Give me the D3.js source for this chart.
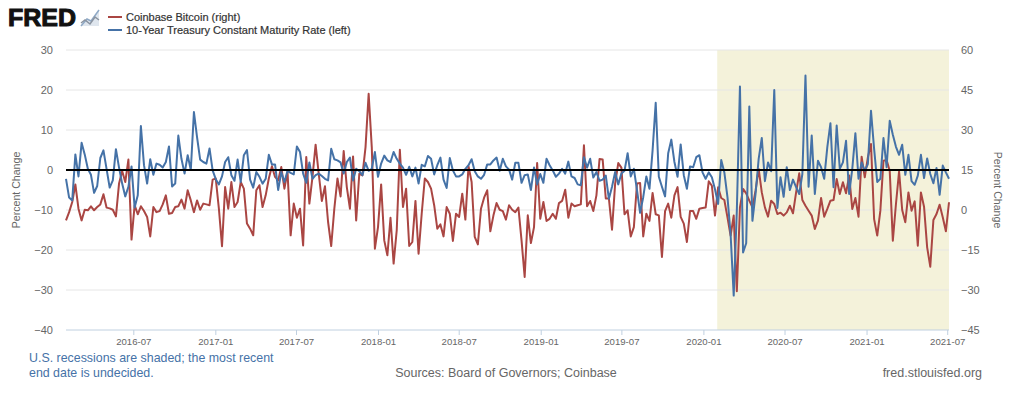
<!DOCTYPE html>
<html>
<head>
<meta charset="utf-8">
<script src="https://cdnjs.cloudflare.com/ajax/libs/d3/7.8.5/d3.min.js"></script>
<style>
  html, body { margin: 0; padding: 0; background: #fff; }
  text { font-family: "Liberation Sans", Arial, sans-serif; }
  .domain { display: none; }
</style>
</head>
<body>
<div id="chart"></div>
<script>
// weekly observations, first one on 2016-02-01
const firstWeek = "2016-02-01";

// Coinbase Bitcoin, percent change (right axis)
const bitcoin = [
  -3.9, -0.8, 3, 9.6, 0.5, -3.9, 0.1, -0.1, 1.4, -0.1, 1.1, 2.1, 5.9, 0.9, 0.6, 0.1, -2.4, 9.9, 14.6, 10.5,
  18.9, -11.1, 1.8, -1.6, 1.4, -0.4, -2.6, -9.9, 1.1, -0.8, -0.4, 2.1, 5.5, -1.4, -1.1, 1.1, 1.4, 3.9, 0.5, 7.4,
  3.6, -0.8, 3.6, 0.1, 2.4, 2.1, 1.8, 11.4, 11.8, 0.5, -13.6, 8.6, 0.5, 10.5, 1.1, 3, 10.5, 8, -5.1, -7,
  -9.5, 7.4, 9.3, 1.1, 5.5, 11.8, 16.4, 12.4, 11.1, 16.1, 8, 14.3, -9.5, 2.4, -2.9, 0.5, -13.3, 19.9, 2.4, 12.4,
  24.5, 13.6, 3.4, 8.9, -4.5, -13.5, 0.5, 11.8, 5.1, 22.1, 8.6, 0.5, 20.1, -3.9, 13.6, 13, 23.6, 43.6, 23.6, -14.5,
  -6.4, 9.6, -11.4, -17, -2.9, -20.1, -7.6, 22.6, 1.1, 8, -13.5, -12, 3.4, -16.4, -1.4, 11.8, 10.5, 8, 1.8, -7,
  -5.4, -9.9, 1.1, -1.4, -11.6, -1.4, -2.6, 6.1, -3.6, 16.4, 10.5, -10.1, -12.9, 0.5, 4.6, 7.4, -8, -2, 2.6, 0.1,
  -0.4, -3.6, 1.8, 0.1, -0.8, 0.9, -11.4, -25.1, -2, -12.4, -6.4, 17.6, -3.3, 3, -4.1, -3.3, -1.4, -3.3, 2.6, 3.4,
  7.6, -2.9, 2.4, 1.4, 1.8, 2.1, 24.3, 1.4, 3.4, -0.4, 5.5, 19.1, 18.9, 4.3, 4.3, -7.4, 9.9, 17.6, 15.9, -1.6,
  -0.1, -9.9, -6.4, 9.9, 10.1, -9.9, -1.4, -4.1, 6.4, -1.6, -2, -17.6, -0.4, 2.4, -2.9, 5.5, 8.6, -2.6, -5.1, -12,
  -0.4, -0.4, -3.3, 0.5, 0.75, 0.9, 10.75, 9.1, -2.1, 8.5, 4.5, 3.75, -2.75, -9.6, -2.1, -30.5, 1, 7.9, 6.25, 3.5,
  1, 7.25, 15.4, 6.6, 1, -2.5, 3.5, 2.25, -1.5, -1, -2.1, -0.9, 1.6, -1.25, 6.6, 13.75, 3.75, 1.6, -0.25, -2.1,
  -7.1, -4, 4.5, -2.5, 0.4, 3.5, 3.75, 11.6, 6, 10.4, 6.25, 12.9, 0.4, 4.5, -2.5, 20, 12.25, 19.75, 24.75, -3.4,
  -9.6, -0.25, 18.5, 18.75, 14.75, -11.5, 2.25, 14.5, 0, -4.6, 6.6, -0.25, 3.25, -13.4, 6.6, 1.25, -14, -21.25, -3.75, -1.5,
  2, -2.75, -8, 2.9
];

// 10-Year Treasury Constant Maturity Rate, percent change (left axis)
const treasury = [
  -2.2, -6.9, -7.6, 3.9, -1.6, 6.8, 3.9, 0.3, -1.2, -5.7, -4, 3, 4.9, 0.3, -4.4, -2.6, 5.2, 0.6, -3.4, -6.6,
  -4.2, 0.9, -9.4, -6.3, 11, 1.2, -3.4, 2.7, -1.2, 1.6, 1.3, 0.6, 2, 5.9, -4.1, -3.4, 8.6, 2.8, -0.9, 3.7,
  0, 14.5, 8.2, 2.6, 2, 1.6, 5.4, -0.1, -2.3, -3.6, -1.6, 2, 3.2, -1.3, -2.7, 2.6, -3, 3.7, 5, -2.4,
  -4.4, -0.5, -1.7, -3.4, -2.2, 3.8, 1.4, 1.4, -5, -0.5, -3, -0.2, -0.7, -1.1, 5.9, 4.5, -0.9, -3.2, 1.9, -2.2,
  -1.3, -0.9, -1.5, -2.2, -2.6, 5.3, 2.7, 2.4, 1.9, -0.9, 2, 3.1, -2.6, 0.3, -0.3, -1.3, 1.8, -0.2, 0.3, 4.5,
  -1.7, 1.6, 3.6, 2.4, 2, 4.5, 2.8, 1.6, 0.6, -1.2, 0.8, -1.6, 0.6, -3.4, 1.3, 0.9, 3.5, 2.8, -1.1, 1.2,
  3.1, -2.4, -4.5, 3, -0.1, -1.6, -1.6, -1.1, 0.3, 1.2, 2.7, -0.3, -1.6, -2.2, -1.2, 1.4, 1.4, 2.4, 3.1, -0.2,
  2.8, 0.9, 0.1, -2.4, 1.8, 1.8, -3.2, -1.3, -1.1, -5, 0.6, -3.6, -1, -3.2, 2.8, 1.2, -0.1, -1.7, -0.9, 0.3,
  -0.9, 2.1, -1.6, -2, -3.6, -3.8, 3.2, 0.6, 2.8, -1.9, -0.5, -2.7, -2.4, -1.4, -7.2, -4.2, -0.5, -3.6, -0.9, -0.2,
  4.2, -1.6, 0.3, -5, -10.7, -6.8, -1.6, -4.7, 4.9, 16.8, -1.7, -4.2, -6.6, 4.2, 7.6, 2, -1.7, 6.4, -1.3, -4.7,
  0.9, 0.7, 3.2, 3.7, -0.6, -2.2, -0.6, -1.8, -4.8, -8.5, 2.5, -0.6, -6.8, -16, -31.4, -10.2, 20.9, -20.6, -18.3, 15.9,
  -12.7, -6, 2.8, 8, -2.8, 1.9, -0.3, 20, -9.5, -1.8, -6.7, 0.7, -5, -2.4, -4.3, -6, -1, 23.6, -4.2, 8.6,
  -6, 2.3, 0.7, -2.2, 5.7, 11.7, -4.3, 11.1, 0.3, 1.9, 7.3, -6, 0.3, 9.2, -2.2, 1.9, -0.2, 1.5, 14.8, 5.3,
  -3, -2.2, 8, 0.7, 12.3, 8.8, 5.8, 3.8, 6.3, -1.2, 3.8, -2.8, -3.7, -1.4, 3.8, -2, 2.9, -1, -3.3, 0.5,
  -6.2, 1.1, -0.6, -2.2
];

const leftTicks = [30, 20, 10, 0, -10, -20, -30, -40];
const rightTicks = [60, 45, 30, 15, 0, -15, -30, -45];
const monthTicks = ["2016-07", "2017-01", "2017-07", "2018-01", "2018-07", "2019-01", "2019-07", "2020-01", "2020-07", "2021-01", "2021-07"];
const recession = ["2020-02-01"];
const legendNames = ["Coinbase Bitcoin (right)", "10-Year Treasury Constant Maturity Rate (left)"];
const noteLines = ["U.S. recessions are shaded; the most recent", "end date is undecided."];
const sourceText = "Sources: Board of Governors; Coinbase";
const siteText = "fred.stlouisfed.org";

const red = "#aa4643", blue = "#4572a7", gridColor = "#e6e6e6", tickText = "#666";
const width = 1024, height = 395;
const margin = { left: 66, right: 75, top: 50, bottom: 65 };

const parseDay = d3.utcParse("%Y-%m-%d");
const parseMonth = d3.utcParse("%Y-%m");
const start = parseDay(firstWeek);
const dates = bitcoin.map((d, i) => d3.utcDay.offset(start, i * 7));

const svg = d3.select("#chart").append("svg")
  .attr("width", width)
  .attr("height", height)
  .style("display", "block");

const x = d3.scaleUtc()
  .domain(d3.extent(dates))
  .range([margin.left, width - margin.right]);
const yLeft = d3.scaleLinear()
  .domain([-40, 30])
  .range([height - margin.bottom, margin.top]);
const yRight = d3.scaleLinear()
  .domain([-45, 60])
  .range([height - margin.bottom, margin.top]);

// recession band
svg.append("rect")
  .attr("x", x(parseDay(recession[0])))
  .attr("y", margin.top)
  .attr("width", x.range()[1] - x(parseDay(recession[0])))
  .attr("height", height - margin.bottom - margin.top)
  .attr("fill", "#f4f2da");

// gridlines
svg.append("g").selectAll("line")
  .data(leftTicks.slice(0, -1))
  .join("line")
  .attr("x1", x.range()[0])
  .attr("x2", x.range()[1])
  .attr("y1", d => yLeft(d))
  .attr("y2", d => yLeft(d))
  .attr("stroke", gridColor);

// axes
const xAxis = svg.append("g")
  .attr("transform", `translate(0, ${height - margin.bottom})`)
  .call(d3.axisBottom(x)
    .tickValues(monthTicks.map(parseMonth))
    .tickFormat(d3.utcFormat("%Y-%m"))
    .tickSize(5)
    .tickPadding(3));
xAxis.selectAll("line").attr("stroke", "#c0d0e0");
xAxis.selectAll("text").attr("fill", tickText).style("font-size", "9.6px");
svg.append("line")
  .attr("x1", x.range()[0])
  .attr("x2", x.range()[1])
  .attr("y1", yLeft(-40))
  .attr("y2", yLeft(-40))
  .attr("stroke", "#c0d0e0");

const leftAxis = svg.append("g")
  .attr("transform", `translate(${margin.left}, 0)`)
  .call(d3.axisLeft(yLeft).tickValues(leftTicks).tickSize(0).tickPadding(13));
leftAxis.selectAll("text").attr("fill", tickText).style("font-size", "11px");

const rightAxis = svg.append("g")
  .attr("transform", `translate(${x.range()[1]}, 0)`)
  .call(d3.axisRight(yRight).tickValues(rightTicks).tickSize(0).tickPadding(12));
rightAxis.selectAll("text").attr("fill", tickText).style("font-size", "11px");

svg.append("text")
  .attr("transform", "translate(20, 190) rotate(-90)")
  .attr("text-anchor", "middle")
  .attr("fill", tickText)
  .style("font-size", "10.6px")
  .text("Percent Change");
svg.append("text")
  .attr("transform", "translate(994, 190) rotate(90)")
  .attr("text-anchor", "middle")
  .attr("fill", tickText)
  .style("font-size", "10.6px")
  .text("Percent Change");

// series
const drawLine = (values, y, color) => {
  svg.append("path")
    .datum(values)
    .attr("fill", "none")
    .attr("stroke", color)
    .attr("stroke-width", 2)
    .attr("stroke-linejoin", "round")
    .attr("d", d3.line()
      .x((d, i) => x(dates[i]))
      .y(d => y(d)));
};
drawLine(bitcoin, yRight, red);
drawLine(treasury, yLeft, blue);

// zero line
svg.append("line")
  .attr("x1", x.range()[0])
  .attr("x2", x.range()[1])
  .attr("y1", yLeft(0))
  .attr("y2", yLeft(0))
  .attr("stroke", "#000")
  .attr("stroke-width", 2);

// logo
svg.append("text")
  .attr("x", 8)
  .attr("y", 26)
  .attr("fill", "#111")
  .attr("textLength", 68)
  .attr("lengthAdjust", "spacingAndGlyphs")
  .style("font-size", "24px")
  .style("font-weight", "bold")
  .style("stroke", "#111")
  .style("stroke-width", "1px")
  .text("FRED");
const logoLines = [
  { color: "#8fa9c6", d: "M81 26 L87 19 L91 21 L99 10" },
  { color: "#8a93a0", d: "M81 23 L85 20 L90 24 L95 17 L99 20" }
];
svg.append("path").attr("d", "M81 26 L87 19 L91 21 L99 10 L99 26 Z").attr("fill", "#dfe6ee");
svg.append("g").selectAll("path")
  .data(logoLines)
  .join("path")
  .attr("d", d => d.d)
  .attr("fill", "none")
  .attr("stroke", d => d.color)
  .attr("stroke-width", 1.5);

// legend
const legend = svg.append("g").selectAll("g")
  .data(legendNames)
  .join("g")
  .attr("transform", (d, i) => `translate(108, ${17 + i * 13})`);
legend.append("line")
  .attr("x2", 14)
  .attr("stroke", (d, i) => i === 0 ? red : blue)
  .attr("stroke-width", 2);
legend.append("text")
  .attr("x", 18)
  .attr("y", 4)
  .attr("fill", "#333")
  .style("font-size", "11px")
  .style("stroke", "#333")
  .style("stroke-width", "0.2px")
  .text(d => d);

// footer
svg.append("g").selectAll("text")
  .data(noteLines)
  .join("text")
  .attr("x", 29)
  .attr("y", (d, i) => 361.5 + i * 15)
  .attr("fill", blue)
  .style("font-size", "12.4px")
  .text(d => d);
svg.append("text")
  .attr("x", 506)
  .attr("y", 377)
  .attr("text-anchor", "middle")
  .attr("fill", tickText)
  .style("font-size", "12.5px")
  .text(sourceText);
svg.append("text")
  .attr("x", 982)
  .attr("y", 377)
  .attr("text-anchor", "end")
  .attr("fill", tickText)
  .style("font-size", "12.5px")
  .text(siteText);
</script>
</body>
</html>
